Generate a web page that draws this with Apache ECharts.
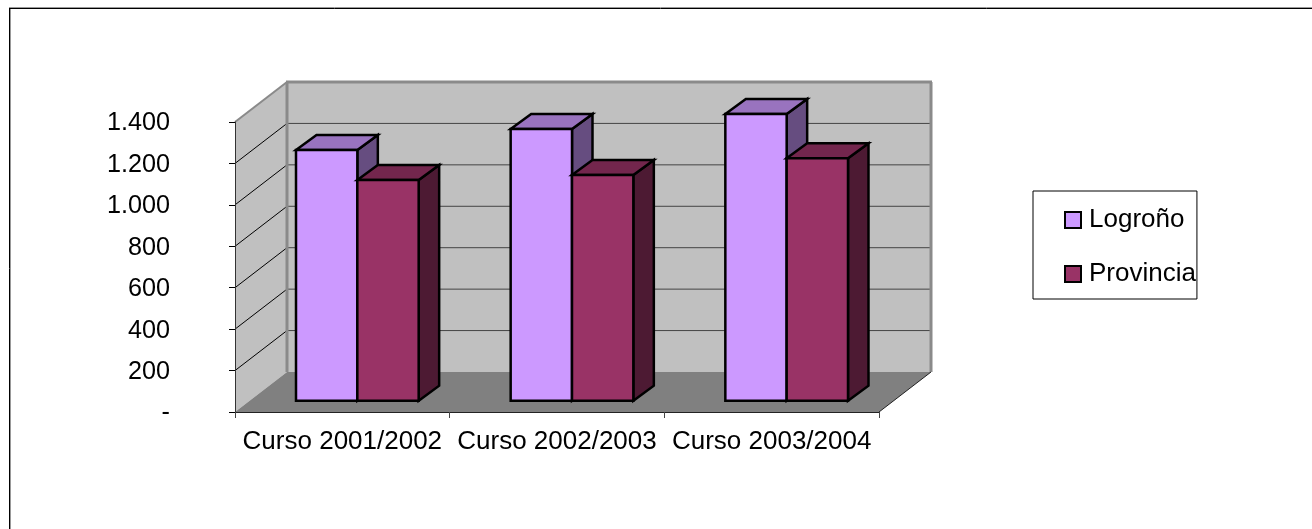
<!DOCTYPE html>
<html>
<head>
<meta charset="utf-8">
<style>html,body{margin:0;padding:0;background:#fff}#c{width:1312px;height:529px}</style>
<script src="https://cdn.jsdelivr.net/npm/echarts@6/dist/echarts.min.js"></script>
</head>
<body>
<div id="c"></div>
<script>
const categories = ['Curso 2001/2002', 'Curso 2002/2003', 'Curso 2003/2004'];
const logrono = [1210, 1312, 1384];
const provincia = [1066, 1090, 1170];
const yTicks = [0, 200, 400, 600, 800, 1000, 1200, 1400];

// 3D projection of the Excel-style chart, in pixels
const WALL_DX = 52, WALL_DY = 40;
const BAR_FX = 15, BAR_FY = 11.3;
const BAR_DX = 20.5, BAR_DY = 15;
const BAR_RATIO = 2 / 7;
const FONT = '"Liberation Sans", Arial, sans-serif';

function shade(c, k) {
  const n = parseInt(c.slice(1), 16);
  const f = v => Math.round(v * k);
  return 'rgb(' + f(n >> 16 & 255) + ',' + f(n >> 8 & 255) + ',' + f(n & 255) + ')';
}

function poly(points, fill, stroke, width) {
  return { type: 'polygon', shape: { points }, silent: true,
    style: { fill, stroke: stroke || 'none', lineWidth: width || 0, lineJoin: 'miter' } };
}
function seg(p, q, stroke, width) {
  return { type: 'line', shape: { x1: p[0], y1: p[1], x2: q[0], y2: q[1] }, silent: true,
    style: { stroke, lineWidth: width } };
}

function renderWalls(params, api) {
  const band = api.size([1, 0])[0];
  const x0 = api.coord([0, 0])[0] - band / 2;
  const x1 = api.coord([categories.length - 1, 0])[0] + band / 2;
  const yOf = v => api.coord([0, v])[1];
  const yb = yOf(yTicks[0]), yt = yOf(yTicks[yTicks.length - 1]);
  const bx0 = x0 + WALL_DX, bx1 = x1 + WALL_DX;
  const children = [
    poly([[bx0, yt - WALL_DY], [bx1, yt - WALL_DY], [bx1, yb - WALL_DY], [bx0, yb - WALL_DY]], '#c0c0c0'),
    poly([[x0, yt], [bx0, yt - WALL_DY], [bx0, yb - WALL_DY], [x0, yb]], '#c0c0c0'),
    poly([[x0, yb], [x1, yb], [bx1, yb - WALL_DY], [bx0, yb - WALL_DY]], '#808080')
  ];
  yTicks.slice(1, -1).forEach(v => {
    const y = yOf(v);
    children.push(seg([x0, y], [bx0, y - WALL_DY], '#000', 1));
    children.push(seg([bx0, y - WALL_DY], [bx1, y - WALL_DY], '#444', 1));
  });
  children.push(seg([x0, yt], [bx0, yt - WALL_DY], '#8a8a8a', 2));
  children.push(seg([bx0 - 1, yt - WALL_DY], [bx1 + 1, yt - WALL_DY], '#8a8a8a', 3));
  children.push(seg([bx0, yt - WALL_DY], [bx0, yb - WALL_DY], '#8a8a8a', 3));
  children.push(seg([bx1, yt - WALL_DY], [bx1, yb - WALL_DY], '#8a8a8a', 3));
  children.push(seg([x1, yb], [bx1, yb - WALL_DY], '#222', 1));
  return { type: 'group', children };
}

function barRenderer(side, color) {
  return function (params, api) {
    const i = api.value(0), v = api.value(1);
    const c = api.coord([i, 0]);
    const w = api.size([1, 0])[0] * BAR_RATIO;
    const xm = c[0] + BAR_FX;
    const xl = side < 0 ? xm - w : xm;
    const xr = xl + w;
    const yb = c[1] - BAR_FY;
    const yt = api.coord([i, v])[1] - BAR_FY;
    const S = '#000', L = 2.5;
    return { type: 'group', children: [
      poly([[xr, yt], [xr + BAR_DX, yt - BAR_DY], [xr + BAR_DX, yb - BAR_DY], [xr, yb]], shade(color, 0.5), S, L),
      poly([[xl, yt], [xl + BAR_DX, yt - BAR_DY], [xr + BAR_DX, yt - BAR_DY], [xr, yt]], shade(color, 0.75), S, L),
      poly([[xl, yt], [xr, yt], [xr, yb], [xl, yb]], color, S, L)
    ] };
  };
}

const colors = { Logroño: '#CC99FF', Provincia: '#993366' };
const chart = echarts.init(document.getElementById('c'), null, { renderer: 'canvas' });
chart.setOption({
  animation: false,
  backgroundColor: '#fff',
  tooltip: { show: false },
  grid: { left: 235, top: 122, width: 644, height: 290, containLabel: false },
  xAxis: {
    type: 'category', data: categories, z: 5,
    axisLine: { show: true, lineStyle: { color: '#222', width: 1 } },
    axisTick: { show: true, length: 6, alignWithLabel: false, lineStyle: { color: '#444', width: 1 } },
    axisLabel: { interval: 0, margin: 17, color: '#000', fontFamily: FONT, fontSize: 26 },
    splitLine: { show: false }
  },
  yAxis: {
    type: 'value', min: 0, max: 1400, interval: 200, z: 5,
    axisLine: { show: true, lineStyle: { color: '#333', width: 1 } },
    axisTick: { show: true, length: 6, lineStyle: { color: '#000', width: 1 } },
    axisLabel: {
      margin: 65, color: '#000', fontFamily: FONT, fontSize: 25.2,
      rich: { t: { fontFamily: FONT, fontSize: 25.2, color: '#000', padding: [3, 0, 0, 0] } },
      formatter: v => '{t|' + (v === 0 ? '-' : (v >= 1000 ? Math.floor(v / 1000) + '.' + String(v % 1000).padStart(3, '0') : String(v))) + '}'
    },
    splitLine: { show: false }
  },
  legend: {
    show: true, orient: 'vertical', left: 1033, top: 191,
    padding: [16, 1, 12, 31],
    backgroundColor: '#fff', borderColor: '#000', borderWidth: 1,
    itemWidth: 16, itemHeight: 16, itemGap: 28, selectedMode: false,
    icon: 'rect',
    itemStyle: { borderColor: '#000', borderWidth: 2 },
    textStyle: { color: '#000', fontFamily: FONT, fontSize: 26, padding: [0, 0, 0, 3] },
    data: [
      { name: 'Logroño', itemStyle: { color: colors['Logroño'], borderColor: '#000', borderWidth: 2 } },
      { name: 'Provincia', itemStyle: { color: colors['Provincia'], borderColor: '#000', borderWidth: 2 } }
    ]
  },
  graphic: [
    { type: 'line', silent: true, shape: { x1: 9, y1: 7.5, x2: 1312, y2: 7.5 }, style: { stroke: '#999', lineWidth: 1 } },
    { type: 'line', silent: true, shape: { x1: 9, y1: 8.5, x2: 1312, y2: 8.5 }, style: { stroke: '#000', lineWidth: 1 } },
    { type: 'line', silent: true, shape: { x1: 9.5, y1: 8, x2: 9.5, y2: 529 }, style: { stroke: '#000', lineWidth: 1 } },
    { type: 'line', silent: true, shape: { x1: 10.5, y1: 9, x2: 10.5, y2: 529 }, style: { stroke: '#999', lineWidth: 1 } }
  ],
  series: [
    { type: 'custom', name: 'Paredes', z: 1, silent: true, clip: false, renderItem: renderWalls,
      data: [[0, 0]], encode: { x: 0, y: 1 } },
    { type: 'custom', name: 'Logroño', z: 2, silent: true, clip: false, renderItem: barRenderer(-1, colors['Logroño']),
      itemStyle: { color: colors['Logroño'] },
      data: logrono.map((v, i) => [i, v]), encode: { x: 0, y: 1 } },
    { type: 'custom', name: 'Provincia', z: 2, silent: true, clip: false, renderItem: barRenderer(1, colors['Provincia']),
      itemStyle: { color: colors['Provincia'] },
      data: provincia.map((v, i) => [i, v]), encode: { x: 0, y: 1 } }
  ]
});
</script>
</body>
</html>
